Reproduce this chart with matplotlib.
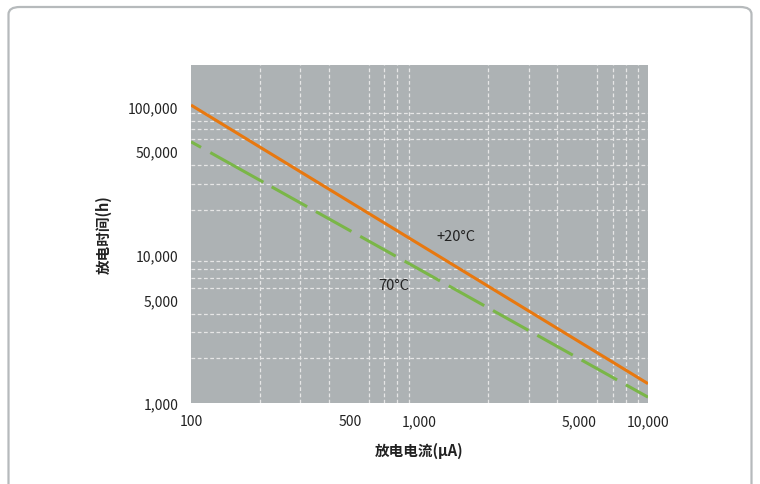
import matplotlib
matplotlib.use("Agg")
import matplotlib.pyplot as plt
from matplotlib.patches import FancyBboxPatch
from matplotlib.ticker import FixedLocator, LogLocator, NullFormatter

# discharge current (uA) vs discharge time (h)
current_ua = [100, 10000]
time_20c = [102000, 1350]
time_70c = [57700, 1095]

x_ticks = [100, 500, 1000, 5000, 10000]
x_labels = ["100", "500", "1,000", "5,000", "10,000"]
y_ticks = [1000, 5000, 10000, 50000, 100000]
y_labels = ["1,000", "5,000", "10,000", "50,000", "100,000"]

plt.rcParams['font.family'] = ['Noto Sans CJK SC', 'DejaVu Sans']

fig = plt.figure(figsize=(7.6, 4.85), dpi=100)

# rounded frame around the chart
frame = FancyBboxPatch((8.5 / 760, -0.05), 743 / 760, (485 - 8) / 485 + 0.05,
                       boxstyle="round,pad=0,rounding_size=0.015",
                       transform=fig.transFigure, facecolor="none",
                       edgecolor="#b6babc", linewidth=1.6, zorder=-1)
fig.patches.append(frame)

ax = fig.add_axes([191 / 760, 81 / 485, 457 / 760, 338 / 485])
ax.set_zorder(2)
ax.set_facecolor("#adb2b4")
ax.set_xscale("log")
ax.set_yscale("log")
ax.set_xlim(100, 10000)
ax.set_ylim(1000, 190000)

# dash pattern of the 70C curve (irregular first dashes, like the original)
green_dashes = [3.77, 3.47, 19.9, 3.1] + [13.3, 3.3] * 10

ax.plot(current_ua, time_20c, color="#e8780f", lw=2.2, solid_capstyle="butt", zorder=3)
ax.plot(current_ua, time_70c, color="#7ab648", lw=2.2, linestyle=(0, green_dashes),
        dash_capstyle="butt", zorder=3)

ax.text(1450, 13300, "+20°C", fontsize=10.5, ha="center", va="center", color="#222222")
ax.text(770, 6250, "70°C", fontsize=10.5, ha="center", va="center", color="#222222")

ax.xaxis.set_major_locator(FixedLocator(x_ticks))
ax.set_xticklabels(x_labels)
ax.yaxis.set_major_locator(FixedLocator(y_ticks))
ax.set_yticklabels(y_labels)
ax.xaxis.set_minor_locator(LogLocator(base=10, subs=range(1, 10)))
ax.yaxis.set_minor_locator(LogLocator(base=10, subs=range(1, 10)))
ax.xaxis.set_minor_formatter(NullFormatter())
ax.yaxis.set_minor_formatter(NullFormatter())

ax.grid(which="minor", color="#e6e6e6", lw=0.9, linestyle=(0, (3, 2)), zorder=1)
ax.set_axisbelow(True)
ax.tick_params(which="both", length=0, labelsize=10, colors="#222222")
ax.tick_params(axis="x", pad=8)
ax.tick_params(axis="y", pad=9)
for s in ax.spines.values():
    s.set_visible(False)

ax.set_xlabel("放电电流(μA)", fontsize=10.5, fontweight="bold", color="#222222", labelpad=10)
ax.set_ylabel("放电时间(h)", fontsize=10.5, fontweight="bold", color="#222222", labelpad=12)

fig.savefig("out.png", dpi=100)
